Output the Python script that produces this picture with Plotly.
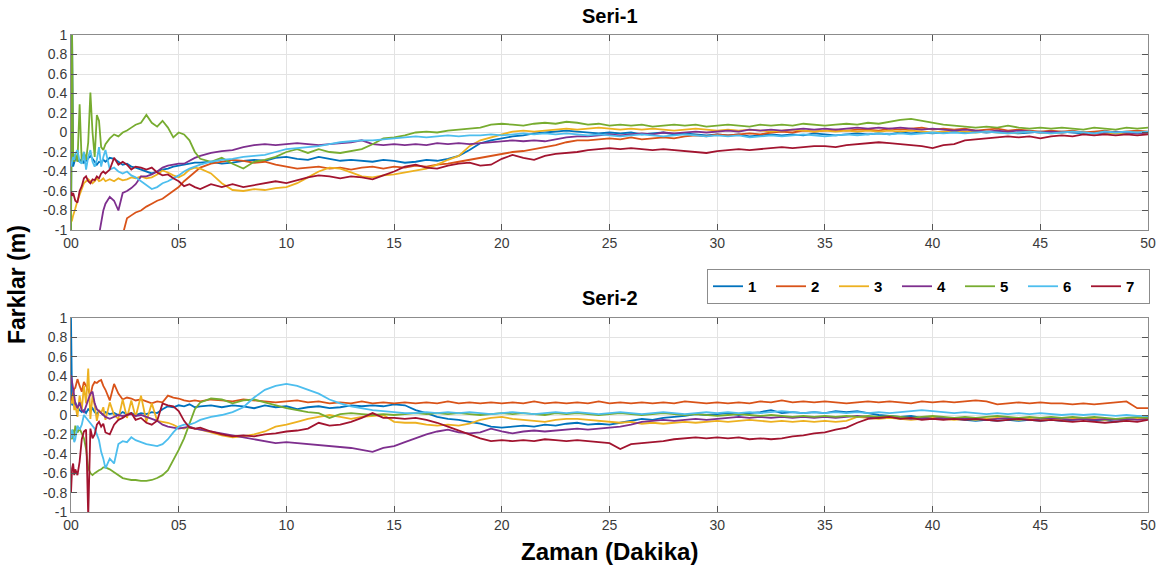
import plotly.graph_objects as go

# ---------------- time axis (minutes) ----------------
T_EARLY = [0, 0.05, 0.1, 0.15, 0.2, 0.3,
           0.4, 0.5, 0.6, 0.7, 0.8, 0.9, 1.0, 1.1, 1.2, 1.3,
           1.4, 1.5, 1.6, 1.8, 2.0, 2.2, 2.4, 2.6, 2.8, 3.0,
           3.25, 3.5, 3.75, 4.0, 4.25, 4.5, 4.75, 5.0, 5.25, 5.5, 5.75]
T_LATE = [6.0, 6.5, 7.0, 7.5, 8.0, 8.5, 9.0, 9.5, 10.0, 10.5,
          11.0, 11.5, 12.0, 12.5, 13.0, 13.5, 14.0, 14.5, 15.0, 15.5,
          16.0, 16.5, 17.0, 17.5, 18.0, 18.5, 19.0, 19.5, 20.0, 20.5,
          21.0, 21.5, 22.0, 22.5, 23.0, 23.5, 24.0, 24.5, 25.0, 25.5,
          26.0, 26.5, 27.0, 27.5, 28.0, 28.5, 29.0, 29.5, 30.0, 30.5,
          31.0, 31.5, 32.0, 32.5, 33.0, 33.5, 34.0, 34.5, 35.0, 35.5,
          36.0, 36.5, 37.0, 37.5, 38.0, 38.5, 39.0, 39.5, 40.0, 40.5,
          41.0, 41.5, 42.0, 42.5, 43.0, 43.5, 44.0, 44.5, 45.0, 45.5,
          46.0, 46.5, 47.0, 47.5, 48.0, 48.5, 49.0, 49.5, 50.0]
T = T_EARLY + T_LATE

SERIES_NAMES = ["1", "2", "3", "4", "5", "6", "7"]
COLORS = ["#0072BD", "#D95319", "#EDB120", "#7E2F8E", "#77AC30", "#4DBEEE", "#A2142F"]

X_TICKS = [0, 5, 10, 15, 20, 25, 30, 35, 40, 45, 50]
X_TICKTEXT = ["00", "05", "10", "15", "20", "25", "30", "35", "40", "45", "50"]
Y_TICKS = [-1, -0.8, -0.6, -0.4, -0.2, 0, 0.2, 0.4, 0.6, 0.8, 1]
Y_TICKTEXT = ["-1", "-0.8", "-0.6", "-0.4", "-0.2", "0", "0.2", "0.4", "0.6", "0.8", "1"]

# ---------------- Seri-1 ----------------
S1_1 = [-1.0, 1.0, -0.35, -0.3, -0.27, -0.28,
        -0.3, -0.27, -0.31, -0.29, -0.26, -0.24, -0.27, -0.3, -0.33, -0.3,
        -0.31, -0.28, -0.3, -0.26, -0.27, -0.3, -0.33, -0.32, -0.35, -0.36,
        -0.38, -0.4, -0.42, -0.4, -0.38, -0.37, -0.35, -0.34, -0.33, -0.32, -0.31,
        -0.31, -0.3, -0.32, -0.31, -0.29, -0.28, -0.29, -0.26, -0.25, -0.27,
        -0.28, -0.25, -0.27, -0.29, -0.28, -0.29, -0.3, -0.28, -0.29, -0.31,
        -0.3, -0.28, -0.29, -0.27, -0.24, -0.18, -0.11, -0.08, -0.06, -0.04,
        -0.03, -0.01, 0.0, 0.01, 0.02, 0.01, 0.0, -0.01, 0.0, -0.01,
        0.0, -0.02, -0.01, 0.0, -0.02, -0.01, -0.02, -0.03, -0.02, -0.03,
        -0.02, -0.04, -0.03, -0.02, -0.03, -0.02, -0.03, -0.01, -0.02, -0.03,
        -0.02, -0.01, -0.02, -0.01, -0.02, 0.0, -0.01, 0.0, -0.01, 0.0,
        0.01, 0.0, 0.01, 0.0, 0.01, 0.0, -0.01, 0.0, 0.01, 0.0,
        0.01, 0.0, -0.01, 0.0, 0.0, -0.01, 0.0, -0.01, 0.0]
S1_2 = [-1.2, -1.2, -1.2, -1.2, -1.2, -1.2,
        -1.2, -1.2, -1.2, -1.2, -1.2, -1.2, -1.2, -1.2, -1.2, -1.2,
        -1.2, -1.2, -1.2, -1.2, -1.2, -1.2, -1.05, -0.88, -0.85, -0.82,
        -0.8, -0.76, -0.73, -0.7, -0.68, -0.64, -0.6, -0.56, -0.5, -0.45, -0.4,
        -0.36, -0.32, -0.3, -0.28, -0.29, -0.31, -0.3, -0.33, -0.35, -0.37,
        -0.36, -0.35, -0.37, -0.36, -0.38, -0.36, -0.35, -0.37, -0.35, -0.36,
        -0.34, -0.35, -0.33, -0.32, -0.3, -0.28, -0.26, -0.24, -0.22, -0.2,
        -0.19, -0.17, -0.15, -0.13, -0.1, -0.08, -0.08, -0.07, -0.06, -0.07,
        -0.05, -0.07, -0.06, -0.05, -0.06, -0.04, -0.03, -0.04, -0.02, -0.03,
        -0.02, -0.01, -0.02, 0.0, 0.01, 0.0, 0.02, 0.01, 0.02, 0.03,
        0.02, 0.03, 0.03, 0.02, 0.04, 0.03, 0.04, 0.05, 0.03, 0.04,
        0.03, 0.04, 0.02, 0.03, 0.04, 0.02, 0.03, 0.02, 0.01, 0.02,
        0.01, 0.02, 0.0, 0.01, 0.02, 0.0, 0.01, 0.02, 0.01]
S1_3 = [-0.92, -0.9, -0.85, -0.82, -0.78, -0.7,
        -0.64, -0.57, -0.52, -0.5, -0.48, -0.5, -0.52, -0.5, -0.47, -0.5,
        -0.49, -0.47, -0.5, -0.48, -0.5, -0.47, -0.49, -0.48, -0.46, -0.47,
        -0.45, -0.47, -0.46, -0.43, -0.39, -0.41, -0.44, -0.46, -0.43, -0.38, -0.36,
        -0.37, -0.42, -0.52, -0.59, -0.6, -0.58, -0.59, -0.57, -0.56, -0.52,
        -0.46, -0.4, -0.36, -0.37, -0.41, -0.45, -0.46, -0.44, -0.43, -0.41,
        -0.39, -0.37, -0.33, -0.28, -0.24, -0.14, -0.08, -0.05, -0.02, 0.01,
        0.02, 0.01, 0.02, 0.03, 0.04, 0.03, 0.04, 0.05, 0.04, 0.03,
        0.04, 0.03, 0.04, 0.03, 0.02, 0.03, 0.04, 0.03, 0.02, 0.03,
        0.02, 0.03, 0.02, 0.01, 0.02, 0.03, 0.02, 0.01, 0.02, 0.01,
        0.02, 0.01, 0.02, 0.01, 0.02, 0.01, 0.02, 0.01, 0.0, 0.01,
        0.02, 0.01, 0.0, 0.01, 0.0, -0.01, 0.0, 0.01, 0.0, -0.01,
        0.0, 0.01, 0.0, -0.01, 0.0, -0.01, 0.0, -0.01, 0.0]
S1_4 = [-1.2, -1.2, -1.2, -1.2, -1.2, -1.2,
        -1.2, -1.2, -1.2, -1.2, -1.2, -1.2, -1.2, -1.2, -1.2, -1.05,
        -0.92, -0.8, -0.73, -0.66, -0.7, -0.8, -0.62, -0.6, -0.57, -0.53,
        -0.45, -0.45, -0.43, -0.4, -0.36, -0.34, -0.33, -0.32, -0.32, -0.29, -0.26,
        -0.24, -0.21, -0.19, -0.18, -0.15, -0.13, -0.12, -0.13, -0.12, -0.11,
        -0.12, -0.13, -0.12, -0.11, -0.1, -0.08, -0.12, -0.13, -0.12, -0.13,
        -0.12, -0.13, -0.11, -0.12, -0.11, -0.12, -0.11, -0.1, -0.09, -0.08,
        -0.09, -0.08, -0.09, -0.07, -0.05, -0.04, -0.04, -0.03, -0.02, -0.03,
        -0.02, -0.01, -0.02, 0.0, -0.01, 0.0, 0.01, 0.0, 0.01, 0.02,
        0.01, 0.03, 0.02, 0.03, 0.02, 0.03, 0.04, 0.03, 0.04, 0.03,
        0.04, 0.05, 0.04, 0.05, 0.04, 0.05, 0.04, 0.03, 0.04, 0.03,
        0.02, 0.03, 0.02, 0.01, 0.02, 0.01, 0.02, 0.01, 0.0, 0.01,
        0.0, 0.01, 0.0, -0.01, 0.0, 0.01, 0.0, -0.01, 0.0]
S1_5 = [-1.0, 1.0, -0.25, -0.3, -0.22, -0.3,
        0.29, -0.32, -0.2, -0.28, -0.1, 0.41, 0.0, -0.25, 0.18, 0.12,
        -0.15, -0.18, -0.12, -0.06, -0.02, -0.04, 0.0, 0.02, 0.05, 0.08,
        0.1, 0.18, 0.1, 0.06, 0.12, 0.05, -0.05, 0.0, -0.02, -0.08, -0.2,
        -0.27, -0.3, -0.26, -0.32, -0.37, -0.3, -0.28, -0.25, -0.2, -0.17,
        -0.21, -0.17, -0.2, -0.21, -0.19, -0.17, -0.12, -0.06, -0.05, -0.03,
        0.0, 0.01, 0.0, 0.02, 0.03, 0.04, 0.05, 0.08, 0.09, 0.08,
        0.07, 0.09, 0.1, 0.09, 0.11, 0.1, 0.08, 0.09, 0.07, 0.08,
        0.07, 0.08, 0.06, 0.07, 0.08, 0.07, 0.08, 0.06, 0.07, 0.08,
        0.07, 0.06, 0.08, 0.07, 0.08, 0.07, 0.09, 0.08, 0.07, 0.08,
        0.09, 0.08, 0.1, 0.09, 0.11, 0.13, 0.14, 0.12, 0.1, 0.08,
        0.07, 0.06, 0.05, 0.06, 0.05, 0.07, 0.05, 0.04, 0.05, 0.04,
        0.05, 0.04, 0.03, 0.05, 0.04, 0.03, 0.05, 0.04, 0.05]
S1_6 = [-0.35, -0.3, -0.25, -0.28, -0.22, -0.18,
        -0.3, -0.32, -0.2, -0.38, -0.25, -0.18, -0.3, -0.35, -0.28, -0.15,
        -0.35, -0.25, -0.18, -0.38, -0.36, -0.4, -0.42, -0.4, -0.44, -0.46,
        -0.5, -0.54, -0.58, -0.56, -0.52, -0.5, -0.47, -0.44, -0.4, -0.37, -0.35,
        -0.33, -0.3, -0.28, -0.27, -0.25, -0.24, -0.23, -0.2, -0.17, -0.16,
        -0.15, -0.14, -0.12, -0.1, -0.09, -0.08, -0.08, -0.07, -0.06, -0.05,
        -0.04, -0.05, -0.04, -0.03, -0.04, -0.03, -0.03, -0.02, -0.03, -0.02,
        -0.01, -0.02, -0.01, -0.02, -0.01, -0.02, -0.03, -0.02, -0.03, -0.04,
        -0.03, -0.02, -0.03, -0.04, -0.03, -0.02, -0.03, -0.04, -0.03, -0.04,
        -0.03, -0.05, -0.04, -0.03, -0.04, -0.03, -0.02, -0.03, -0.04, -0.03,
        -0.02, -0.03, -0.02, -0.01, -0.02, -0.01, -0.02, -0.01, 0.0, -0.01,
        0.0, -0.01, 0.0, 0.01, 0.0, -0.01, 0.0, 0.01, 0.0, -0.01,
        0.0, 0.01, 0.0, -0.01, 0.01, 0.0, 0.01, 0.0, 0.01]
S1_7 = [-0.6, -0.65, -0.62, -0.68, -0.7, -0.72,
        -0.6, -0.55, -0.47, -0.45, -0.5, -0.52, -0.48, -0.49, -0.45, -0.47,
        -0.42, -0.4, -0.42, -0.38, -0.26, -0.33, -0.3, -0.33, -0.38, -0.35,
        -0.36, -0.38, -0.36, -0.41, -0.44, -0.43, -0.47, -0.5, -0.55, -0.53, -0.56,
        -0.58, -0.53, -0.56, -0.53, -0.56, -0.54, -0.52, -0.5, -0.52, -0.49,
        -0.46, -0.44, -0.45, -0.47, -0.45, -0.46, -0.48, -0.44, -0.4, -0.35,
        -0.33, -0.36, -0.37, -0.34, -0.32, -0.31, -0.34, -0.33, -0.27, -0.23,
        -0.26, -0.28, -0.24, -0.22, -0.21, -0.2, -0.18, -0.17, -0.16, -0.17,
        -0.16, -0.17, -0.18, -0.17, -0.18, -0.19, -0.2, -0.21, -0.19, -0.18,
        -0.17, -0.18, -0.17, -0.16, -0.15, -0.16, -0.15, -0.14, -0.14, -0.15,
        -0.13, -0.12, -0.11, -0.1, -0.11, -0.12, -0.13, -0.14, -0.16, -0.13,
        -0.12, -0.08, -0.07, -0.06, -0.05, -0.04, -0.05, -0.04, -0.06, -0.04,
        -0.03, -0.04, -0.02, -0.03, -0.02, -0.03, -0.02, -0.03, -0.02]

# ---------------- Seri-2 ----------------
S2_1 = [1.0, 0.1, 0.12, 0.1, 0.13, 0.08,
        0.05, 0.03, 0.05, 0.02, 0.06, 0.04, 0.07, 0.03, 0.01, 0.04,
        0.02, 0.0, 0.03, 0.01, 0.02, 0.0, 0.03, 0.01, 0.02, 0.0,
        0.02, 0.01, 0.03, 0.02, 0.06, 0.09, 0.08, 0.1, 0.09, 0.11, 0.08,
        0.09, 0.1, 0.08, 0.1, 0.09, 0.07, 0.1, 0.08, 0.09, 0.06,
        0.08, 0.09, 0.07, 0.08, 0.1, 0.09, 0.1, 0.09, 0.11, 0.1,
        0.05, 0.02, -0.02, -0.04, -0.05, -0.07, -0.09, -0.12, -0.13, -0.12,
        -0.11, -0.12, -0.1, -0.11, -0.09, -0.08, -0.1, -0.09, -0.1, -0.08,
        -0.06, -0.04, -0.05, -0.03, -0.02, -0.01, 0.01, 0.0, 0.01, 0.02,
        0.0, 0.02, 0.03, 0.05, 0.02, 0.03, 0.02, 0.03, 0.02, 0.04,
        0.03, 0.04, 0.02, 0.0, -0.01, -0.02, -0.01, -0.03, -0.02, -0.03,
        -0.04, -0.05, -0.06, -0.05, -0.06, -0.05, -0.06, -0.05, -0.06, -0.05,
        -0.06, -0.05, -0.04, -0.06, -0.05, -0.07, -0.05, -0.04, -0.02]
S2_2 = [0.13, 0.18, 0.22, 0.27, 0.28, 0.37,
        0.3, 0.24, 0.34, 0.3, 0.26, 0.2, 0.3, 0.34, 0.33, 0.35,
        0.36, 0.3, 0.26, 0.15, 0.32, 0.22, 0.16, 0.18, 0.17, 0.15,
        0.16, 0.14, 0.12, 0.14, 0.13, 0.2, 0.18, 0.17, 0.15, 0.14, 0.15,
        0.14, 0.16, 0.15, 0.14, 0.16, 0.15, 0.14, 0.13, 0.14, 0.15,
        0.13, 0.14, 0.12, 0.13, 0.12, 0.14, 0.12, 0.13, 0.12, 0.13,
        0.12, 0.13, 0.12, 0.14, 0.12, 0.13, 0.12, 0.13, 0.12, 0.13,
        0.12, 0.14, 0.12, 0.13, 0.12, 0.13, 0.12, 0.14, 0.12, 0.13,
        0.12, 0.13, 0.12, 0.13, 0.12, 0.14, 0.13, 0.12, 0.13, 0.12,
        0.13, 0.12, 0.14, 0.13, 0.15, 0.13, 0.14, 0.13, 0.14, 0.13,
        0.12, 0.13, 0.14, 0.13, 0.14, 0.13, 0.12, 0.14, 0.13, 0.14,
        0.13, 0.14, 0.15, 0.14, 0.11, 0.12, 0.13, 0.12, 0.13, 0.12,
        0.12, 0.11, 0.12, 0.11, 0.12, 0.13, 0.14, 0.07, 0.07]
S2_3 = [0.15, 0.12, 0.2, 0.05, 0.1, -0.02,
        0.2, 0.05, 0.3, 0.12, 0.48, -0.04, 0.2, 0.1, -0.06, 0.05,
        0.02, 0.08, -0.05, 0.13, 0.0, -0.04, 0.16, -0.03, 0.15, -0.02,
        0.2, -0.07, 0.12, -0.06, -0.07, -0.08, -0.1, -0.13, -0.14, -0.12, -0.14,
        -0.15, -0.18, -0.21, -0.23, -0.22, -0.2, -0.17, -0.12, -0.1, -0.07,
        -0.04, -0.02, 0.0, -0.02, -0.04, -0.02, -0.01, 0.0, -0.07, -0.08,
        -0.08, -0.1, -0.11, -0.1, -0.11, -0.09, -0.05, -0.03, -0.02, -0.04,
        -0.05, -0.06, -0.07, -0.05, -0.04, -0.04, -0.05, -0.06, -0.07, -0.08,
        -0.07, -0.09, -0.08, -0.09, -0.08, -0.07, -0.08, -0.07, -0.06, -0.07,
        -0.06, -0.05, -0.06, -0.07, -0.06, -0.07, -0.06, -0.07, -0.06, -0.07,
        -0.06, -0.02, -0.03, -0.04, -0.03, -0.04, -0.05, -0.04, -0.03, -0.04,
        -0.05, -0.04, -0.05, -0.04, -0.03, -0.04, -0.05, -0.04, -0.05, -0.04,
        -0.05, -0.04, -0.03, -0.04, -0.05, -0.04, -0.05, -0.04, -0.03]
S2_4 = [0.41, 0.35, 0.27, 0.2, 0.12, 0.07,
        0.13, 0.05, 0.03, 0.1, 0.17, 0.22, 0.24, 0.12, 0.06, 0.04,
        0.03, 0.0, -0.02, -0.04, -0.02, 0.0, -0.01, 0.0, 0.01, -0.01,
        0.0, -0.02, -0.04, -0.06, -0.1, -0.12, -0.13, -0.14, -0.13, -0.12, -0.14,
        -0.15, -0.17, -0.19, -0.21, -0.23, -0.25, -0.27, -0.29, -0.28, -0.29,
        -0.3, -0.31, -0.32, -0.33, -0.34, -0.36, -0.38, -0.34, -0.32, -0.28,
        -0.24, -0.2, -0.17, -0.15, -0.18, -0.19, -0.18, -0.14, -0.17, -0.19,
        -0.17, -0.16, -0.17, -0.16, -0.15, -0.14, -0.15, -0.14, -0.13, -0.12,
        -0.1, -0.07, -0.06, -0.05, -0.06, -0.05, -0.04, -0.05, -0.04, -0.03,
        -0.02, -0.03, -0.02, -0.03, -0.02, -0.03, -0.02, -0.03, -0.02, -0.03,
        -0.02, -0.01, -0.02, -0.03, -0.02, -0.03, -0.04, -0.03, -0.04, -0.03,
        -0.04, -0.03, -0.04, -0.05, -0.04, -0.03, -0.04, -0.05, -0.04, -0.03,
        -0.04, -0.05, -0.04, -0.05, -0.04, -0.05, -0.04, -0.05, -0.04]
S2_5 = [-0.2, -0.25, -0.15, -0.22, -0.11, -0.18,
        -0.14, -0.2, -0.24, -0.35, -0.55, -0.6, -0.62, -0.6, -0.58, -0.57,
        -0.56, -0.54, -0.54, -0.56, -0.59, -0.62, -0.65, -0.66, -0.67, -0.67,
        -0.68, -0.68, -0.67, -0.65, -0.62, -0.57, -0.47, -0.36, -0.24, -0.08, 0.06,
        0.13, 0.17, 0.16, 0.12, 0.15, 0.16, 0.13, 0.1, 0.07, 0.05,
        0.03, 0.02, -0.03, 0.01, 0.02, 0.01, 0.0, 0.01, 0.0, 0.01,
        0.02, 0.01, 0.02, 0.01, 0.02, 0.01, 0.0, 0.01, 0.02, 0.01,
        0.02, 0.01, 0.0, 0.02, 0.01, 0.02, 0.01, 0.0, 0.01, 0.02,
        0.01, 0.0, 0.01, 0.02, 0.01, 0.0, 0.01, 0.0, -0.01, 0.0,
        0.01, 0.0, -0.01, 0.0, -0.01, -0.02, -0.01, -0.02, -0.01, -0.02,
        -0.01, -0.02, -0.01, -0.02, -0.01, -0.02, -0.03, -0.02, -0.01, -0.02,
        -0.03, -0.02, -0.03, -0.02, -0.01, -0.02, -0.03, -0.02, -0.03, -0.02,
        -0.03, -0.02, -0.03, -0.02, -0.03, -0.04, -0.03, -0.02, -0.03]
S2_6 = [-0.24, -0.15, -0.2, -0.28, -0.25, -0.11,
        -0.15, -0.1, 0.0, -0.03, -0.05, -0.08, -0.11, -0.14, -0.2, -0.26,
        -0.38, -0.45, -0.55, -0.45, -0.5, -0.3, -0.27, -0.28, -0.23, -0.26,
        -0.28, -0.3, -0.31, -0.32, -0.3, -0.25, -0.18, -0.12, -0.1, -0.1, -0.08,
        -0.05, -0.02, 0.0, 0.03, 0.08, 0.18, 0.26, 0.3, 0.32, 0.3,
        0.26, 0.22, 0.16, 0.12, 0.09, 0.07, 0.05, 0.04, 0.03, 0.02,
        0.02, 0.03, 0.02, 0.03, 0.02, 0.03, 0.02, 0.01, 0.02, 0.03,
        0.02, 0.01, 0.02, 0.03, 0.02, 0.03, 0.02, 0.01, 0.02, 0.03,
        0.02, 0.01, 0.02, 0.03, 0.02, 0.01, 0.02, 0.03, 0.02, 0.03,
        0.02, 0.03, 0.02, 0.03, 0.04, 0.03, 0.02, 0.03, 0.02, 0.03,
        0.02, 0.03, 0.02, 0.03, 0.02, 0.03, 0.04, 0.05, 0.04, 0.03,
        0.02, 0.03, 0.02, 0.01, 0.02, 0.01, 0.02, 0.01, 0.02, 0.01,
        0.0, 0.01, 0.0, 0.01, 0.0, -0.01, 0.0, -0.01, -0.01]
S2_7 = [-0.8, -0.55, -0.5, -0.62, -0.56, -0.62,
        -0.48, -0.25, -0.17, -0.15, -1.05, -0.14, -0.24, -0.2, -0.1, -0.07,
        -0.12, -0.09, -0.18, -0.2, -0.1, -0.05, -0.03, 0.0, 0.02, -0.05,
        -0.03, -0.08, -0.1, -0.06, 0.12, 0.1, 0.09, 0.04, -0.06, -0.13, -0.14,
        -0.13, -0.17, -0.2, -0.22, -0.21, -0.22, -0.2, -0.19, -0.17, -0.16,
        -0.14, -0.08, -0.11, -0.1, -0.07, -0.03, 0.02, -0.03, -0.03, -0.04,
        -0.03, -0.05, -0.08, -0.12, -0.16, -0.2, -0.24, -0.27, -0.26, -0.27,
        -0.26, -0.27, -0.25, -0.26, -0.27, -0.26, -0.27, -0.28, -0.29, -0.35,
        -0.3, -0.29, -0.28, -0.27, -0.25, -0.24, -0.23, -0.24, -0.23, -0.24,
        -0.23, -0.25, -0.24, -0.25, -0.24, -0.22, -0.21, -0.19, -0.18, -0.15,
        -0.13, -0.08, -0.04, -0.03, -0.02, -0.04, -0.03, -0.05, -0.04, -0.05,
        -0.04, -0.05, -0.04, -0.05, -0.06, -0.05, -0.04, -0.05, -0.06, -0.05,
        -0.06, -0.07, -0.06, -0.07, -0.08, -0.07, -0.06, -0.07, -0.05]

SERI1 = [S1_1, S1_2, S1_3, S1_4, S1_5, S1_6, S1_7]
SERI2 = [S2_1, S2_2, S2_3, S2_4, S2_5, S2_6, S2_7]
for s in SERI1 + SERI2:
    assert len(s) == len(T), len(s)

W, H = 1165, 573
PX_L, PX_R = 71, 1148
TOP_Y = (35, 230)
BOT_Y = (318, 512)


def fx(px):
    return px / W


def fy(py):
    return 1 - py / H


FONT = "Liberation Sans, Arial, Helvetica, sans-serif"
TICK_COLOR = "#3a3a3a"

fig = go.Figure()
for i, (name, col) in enumerate(zip(SERIES_NAMES, COLORS)):
    fig.add_trace(go.Scatter(x=T, y=SERI1[i], mode="lines", name=name,
                             line=dict(color=col, width=1.8),
                             xaxis="x", yaxis="y", showlegend=True))
for i, (name, col) in enumerate(zip(SERIES_NAMES, COLORS)):
    fig.add_trace(go.Scatter(x=T, y=SERI2[i], mode="lines", name=name,
                             line=dict(color=col, width=1.8),
                             xaxis="x2", yaxis="y2", showlegend=False))

axis_common = dict(showgrid=True, gridcolor="#e3e3e3", gridwidth=1,
                   showline=True, linecolor="#8c8c8c", linewidth=1,
                   mirror="ticks", ticks="inside", ticklen=6, tickwidth=1,
                   tickcolor="#555555", zeroline=False, automargin=False,
                   tickfont=dict(family=FONT, size=14, color=TICK_COLOR))


def ann(text, px, py, size, angle=0):
    return dict(text=text, x=fx(px), y=fy(py), xref="paper", yref="paper",
                xanchor="center", yanchor="middle", showarrow=False, textangle=angle,
                font=dict(family=FONT, size=size, color="black"))


fig.update_layout(
    width=W, height=H, autosize=False,
    margin=dict(l=0, r=0, t=0, b=0, pad=0, autoexpand=False),
    paper_bgcolor="white", plot_bgcolor="white",
    font=dict(family=FONT),
    xaxis=dict(domain=[fx(PX_L), fx(PX_R)], anchor="y", range=[0, 50],
               tickvals=X_TICKS, ticktext=X_TICKTEXT, **axis_common),
    yaxis=dict(domain=[fy(TOP_Y[1]), fy(TOP_Y[0])], anchor="x", range=[-1, 1],
               tickvals=Y_TICKS, ticktext=Y_TICKTEXT, **axis_common),
    xaxis2=dict(domain=[fx(PX_L), fx(PX_R)], anchor="y2", range=[0, 50],
                tickvals=X_TICKS, ticktext=X_TICKTEXT, **axis_common),
    yaxis2=dict(domain=[fy(BOT_Y[1]), fy(BOT_Y[0])], anchor="x2", range=[-1, 1],
                tickvals=Y_TICKS, ticktext=Y_TICKTEXT, **axis_common),
    legend=dict(orientation="h", x=fx(1150), y=fy(269), xanchor="right", yanchor="top",
                bgcolor="white", bordercolor="#8c8c8c", borderwidth=1,
                font=dict(family=FONT, size=15, color="black", weight="bold"),
                entrywidth=18, entrywidthmode="pixels", tracegroupgap=0),
    annotations=[
        ann("<b>Seri-1</b>", (PX_L + PX_R) / 2, 16, 20),
        ann("<b>Seri-2</b>", (PX_L + PX_R) / 2, 298, 20),
        ann("<b>Zaman (Dakika)</b>", (PX_L + PX_R) / 2, 551, 24),
        ann("<b>Farklar (m)</b>", 17, 285, 23, angle=-90),
    ],
)

POST = ("document.documentElement.style.margin='0';"
        "document.documentElement.style.overflow='hidden';"
        "document.body.style.margin='0';document.body.style.padding='0';"
        "document.body.style.overflow='hidden';")

fig.write_html("out.html", config={"responsive": False}, post_script=POST)
